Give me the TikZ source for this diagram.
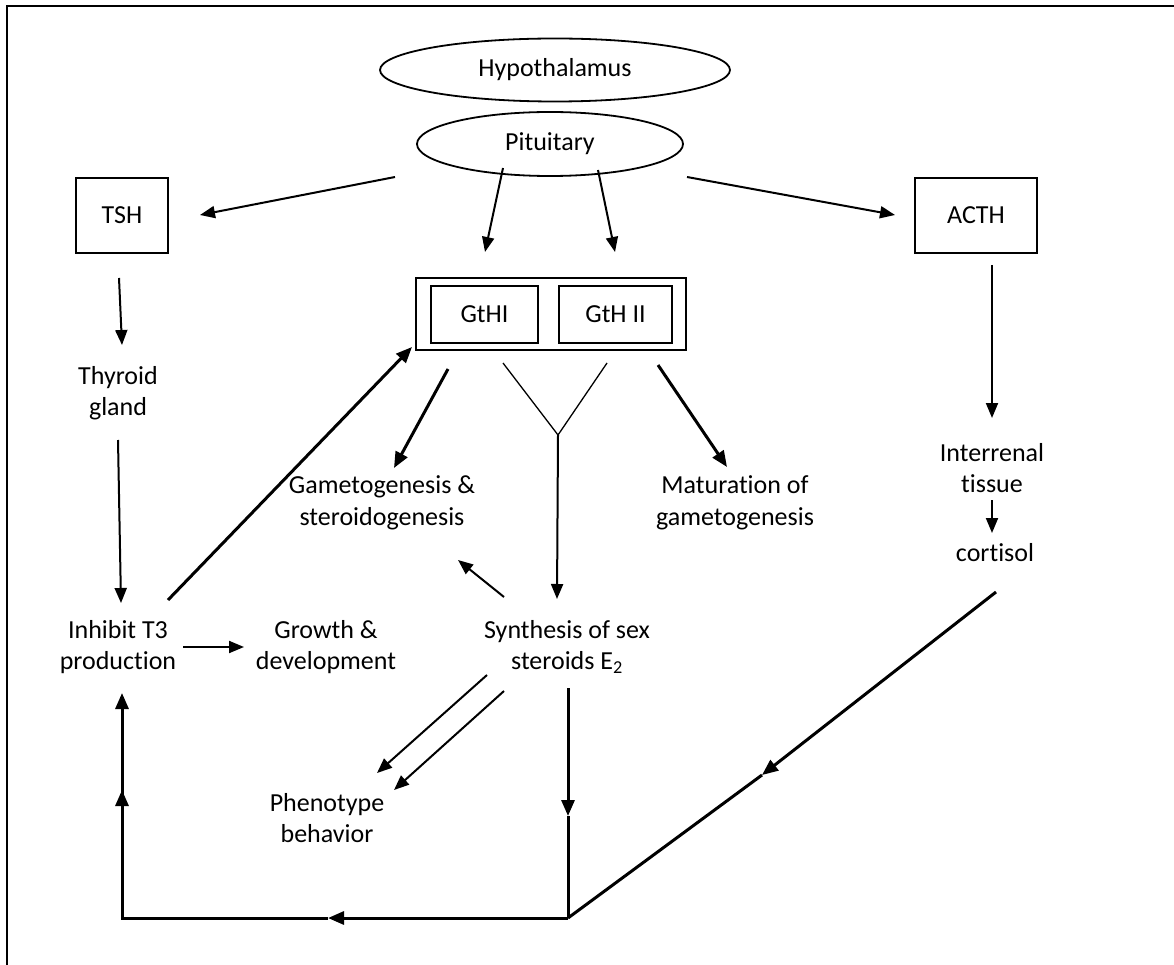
\documentclass[tikz,border=0pt]{standalone}
\usepackage{fontspec}
\setmainfont[Ligatures=NoCommon]{Carlito}
\usetikzlibrary{arrows.meta,shapes.geometric}
\begin{document}
\begin{tikzpicture}[x=1pt,y=-1pt,
  every node/.style={font=\fontsize{26}{31.5}\selectfont, align=center, inner sep=0pt},
  ell/.style={draw, ellipse, line width=1.8pt, inner sep=0pt},
  box/.style={draw, rectangle, line width=2pt, inner sep=0pt},
  arr/.style={line width=2pt, -{Triangle[length=15pt,width=12pt]}},
  tarr/.style={line width=3pt, -{Triangle[length=16pt,width=13pt]}},
  tline/.style={line width=3pt},
  thin/.style={line width=1.3pt}]
\useasboundingbox (0,0) rectangle (1174,965);
\fill[white] (0,0) rectangle (1174,965);
% frame
\draw[line width=2.5pt] (7,965) -- (7,6) -- (1174,6);
% nodes
\node[ell, minimum width=350pt, minimum height=63pt] (hyp) at (555,70) {Hypothalamus};
\node[ell, minimum width=266pt, minimum height=64pt] (pit) at (550,144) {Pituitary};
\node[box, minimum width=92pt, minimum height=75pt] (tsh) at (122,215.5) {TSH};
\node[box, minimum width=122pt, minimum height=75pt] (acth) at (976,215.5) {ACTH};
\node[box, minimum width=270pt, minimum height=72pt] (gth) at (551,314) {};
\node[box, minimum width=107pt, minimum height=57pt] (gth1) at (484.5,314.5) {GtHI};
\node[box, minimum width=113pt, minimum height=57pt] (gth2) at (615.5,314.5) {GtH II};
\node (thy) at (118,393) {Thyroid\\gland};
\node (inh) at (118,647) {Inhibit T3\\production};
\node (gro) at (326,647) {Growth \&\\development};
\node (syn) at (567,647) {Synthesis of sex\\steroids E\textsubscript{2}};
\node (gam) at (382,503) {Gametogenesis \&\\steroidogenesis};
\node (mat) at (735,503) {Maturation of\\gametogenesis};
\node (int) at (992,468) {Interrenal\\tissue};
\node (cor) at (995,553) {cortisol};
\node (phe) at (327,818) {Phenotype\\behavior};
% coordinates
\coordinate (p1) at (395,177); \coordinate (t1) at (200,215);
\coordinate (p2) at (687,177); \coordinate (a1) at (895,215);
\coordinate (p3) at (503,168); \coordinate (g1) at (485,252);
\coordinate (p4) at (598,170); \coordinate (g2) at (615,252);
\coordinate (ts) at (119,278); \coordinate (th1) at (122,345);
\coordinate (th2) at (118,440); \coordinate (in1) at (121,603);
\coordinate (in2) at (168,600); \coordinate (gb) at (412,347);
\coordinate (in3) at (183,647); \coordinate (gr1) at (244,647);
\coordinate (gl) at (448,369); \coordinate (ga1) at (394,468);
\coordinate (gr) at (658,365); \coordinate (ma1) at (727,467);
\coordinate (ya) at (503,363); \coordinate (yb) at (607,363); \coordinate (yc) at (558,435);
\coordinate (sy1) at (557,599);
\coordinate (sy2) at (504,597); \coordinate (ga2) at (458,560);
\coordinate (sy3) at (487,675); \coordinate (ph1) at (377,773);
\coordinate (sy4) at (504,691); \coordinate (ph2) at (394,790);
\coordinate (sy5) at (568,688); \coordinate (e1) at (568,816);
\coordinate (corner) at (568,918); \coordinate (b1) at (328,918);
\coordinate (bl) at (122,918); \coordinate (l1) at (122,790); \coordinate (l2) at (122,693);
\coordinate (c1) at (996,592); \coordinate (c2) at (762,775);
\coordinate (ac) at (992,265); \coordinate (in4) at (992,418);
\coordinate (it) at (992,500); \coordinate (co) at (992,533);
% connectors
\draw[arr] (p1) -- (t1);
\draw[arr] (p2) -- (a1);
\draw[arr] (p3) -- (g1);
\draw[arr] (p4) -- (g2);
\draw[arr] (ts) -- (th1);
\draw[arr] (th2) -- (in1);
\draw[tarr] (in2) -- (gb);
\draw[arr] (in3) -- (gr1);
\draw[tarr] (gl) -- (ga1);
\draw[tarr] (gr) -- (ma1);
\draw[thin] (ya) -- (yc) -- (yb);
\draw[arr] (yc) -- (sy1);
\draw[arr] (sy2) -- (ga2);
\draw[arr] (sy3) -- (ph1);
\draw[arr] (sy4) -- (ph2);
\draw[tarr] (sy5) -- (e1);
\draw[tline] (e1) -- (corner);
\draw[tarr] (corner) -- (b1);
\draw[tline, line join=miter] (b1) -- (bl) -- (l1);
\draw[tarr] (bl) -- (l1);
\draw[tarr] (l1) -- (l2);
\draw[tarr] (c1) -- (c2);
\draw[tline] (c2) -- (corner);
\draw[arr] (ac) -- (in4);
\draw[arr] (it) -- (co);
\end{tikzpicture}
\end{document}
